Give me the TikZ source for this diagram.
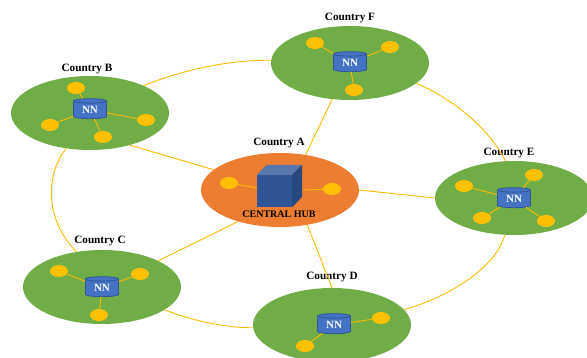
\documentclass[tikz,border=0pt]{standalone}
\usepackage{fontspec}
\setmainfont{Liberation Serif}
\usetikzlibrary{shapes.geometric}
\definecolor{hubgreen}{HTML}{70AD47}
\definecolor{huborange}{HTML}{ED7D31}
\definecolor{linkyellow}{HTML}{FFC000}
\definecolor{nnblue}{HTML}{4472C4}
\definecolor{nnedge}{HTML}{2F5597}
\begin{document}
\begin{tikzpicture}[x=1pt,y=1pt,
  country/.style={ellipse,fill=hubgreen,minimum width=158pt,minimum height=74pt,inner sep=0pt},
  central/.style={ellipse,fill=huborange,minimum width=158pt,minimum height=74pt,inner sep=0pt},
  client/.style={ellipse,fill=linkyellow,minimum width=18pt,minimum height=12pt,inner sep=0pt},
  nn/.style={cylinder,shape border rotate=90,aspect=0.28,cylinder uses custom fill,cylinder body fill=nnblue,cylinder end fill=nnblue,draw=nnedge,line width=0.8pt,minimum width=33pt,minimum height=20pt,inner sep=0pt,text=white,font=\fontsize{11}{13}\selectfont\bfseries},
  countrylabel/.style={font=\fontsize{11.2}{13}\selectfont\bfseries,inner sep=0pt},
  link/.style={linkyellow!90!orange,line width=0.9pt}]
 \useasboundingbox (0,0) rectangle (587,358);
 % countries
 \node[central] (A) at (280,168) {};
 \node[country] (B) at (90,245) {};
 \node[country] (C) at (102,71) {};
 \node[country] (D) at (332,33) {};
 \node[country] (E) at (514,160) {};
 \node[country] (F) at (350,295) {};
 % labels
 \node[countrylabel] (labelA) at (279,215) {Country A};
 \node[countrylabel] (labelB) at (87,289) {Country B};
 \node[countrylabel] (labelC) at (100,117) {Country C};
 \node[countrylabel] (labelD) at (332,81) {Country D};
 \node[countrylabel] (labelE) at (509,205) {Country E};
 \node[countrylabel] (labelF) at (350,340) {Country F};
 % links between countries
 \draw[link] (A.163) -- (B.-39);
 \draw[link] (A.217) -- (C.25);
 \draw[link] (A.-52) -- (D.90);
 \draw[link] (A.0) -- (E.180);
 \draw[link] (A.54) -- (F.244);
 \draw[link] (B.27) .. controls (180,287) and (225,298) .. (F.178);
 \draw[link] (F.-17) .. controls (455,258) and (490,228) .. (E.103);
 \draw[link] (E.-104) .. controls (495,88) and (445,60) .. (D.12);
 \draw[link] (D.182) .. controls (225,30) and (190,38) .. (C.-20);
 \draw[link] (C.126) .. controls (45,138) and (45,183) .. (B.236);
 % central hub
 \node[client] (a1) at (229,175) {};
 \node[client] (a2) at (332,169) {};
 \node[inner sep=0pt,minimum width=35pt,minimum height=32pt] (cube) at (274.5,167) {};
 \draw[link] (a1) -- (cube);
 \draw[link] (a2) -- (cube);
 \fill[nnedge] (cube.south west) rectangle (cube.north east);
 \fill[nnedge!80!white] (cube.north west) -- ++(10,10) -- ++(35,0) -- (cube.north east) -- cycle;
 \fill[nnedge!85!black] (cube.north east) -- ++(10,10) -- ++(0,-32) -- (cube.south east) -- cycle;
 \node[countrylabel,font=\fontsize{10}{12}\selectfont\bfseries] (hub) at (279,144) {CENTRAL HUB};
 % country B
 \node[nn] (nnB) at (90,248) {NN};
 \node[client] (b1) at (76,270) {};
 \node[client] (b2) at (146,238) {};
 \node[client] (b3) at (103,221) {};
 \node[client] (b4) at (50,233) {};
 \draw[link] (nnB) -- (b1);
 \draw[link] (nnB) -- (b2);
 \draw[link] (nnB) -- (b3);
 \draw[link] (nnB) -- (b4);
 % country C
 \node[nn] (nnC) at (102,70) {NN};
 \node[client] (c1) at (59,87) {};
 \node[client] (c2) at (140,84) {};
 \node[client] (c3) at (99,43) {};
 \draw[link] (nnC) -- (c1);
 \draw[link] (nnC) -- (c2);
 \draw[link] (nnC) -- (c3);
 % country D
 \node[nn] (nnD) at (334,33) {NN};
 \node[client] (d1) at (381,40) {};
 \node[client] (d2) at (305,12) {};
 \draw[link] (nnD) -- (d1);
 \draw[link] (nnD) -- (d2);
 % country E
 \node[nn] (nnE) at (514,159) {NN};
 \node[client] (e1) at (464,172) {};
 \node[client] (e2) at (534,183) {};
 \node[client] (e3) at (482,140) {};
 \node[client] (e4) at (546,137) {};
 \draw[link] (nnE) -- (e1);
 \draw[link] (nnE) -- (e2);
 \draw[link] (nnE) -- (e3);
 \draw[link] (nnE) -- (e4);
 % country F
 \node[nn] (nnF) at (350,295) {NN};
 \node[client] (f1) at (315,315) {};
 \node[client] (f2) at (390,311) {};
 \node[client] (f3) at (354,268) {};
 \draw[link] (nnF) -- (f1);
 \draw[link] (nnF) -- (f2);
 \draw[link] (nnF) -- (f3);
\end{tikzpicture}
\end{document}
